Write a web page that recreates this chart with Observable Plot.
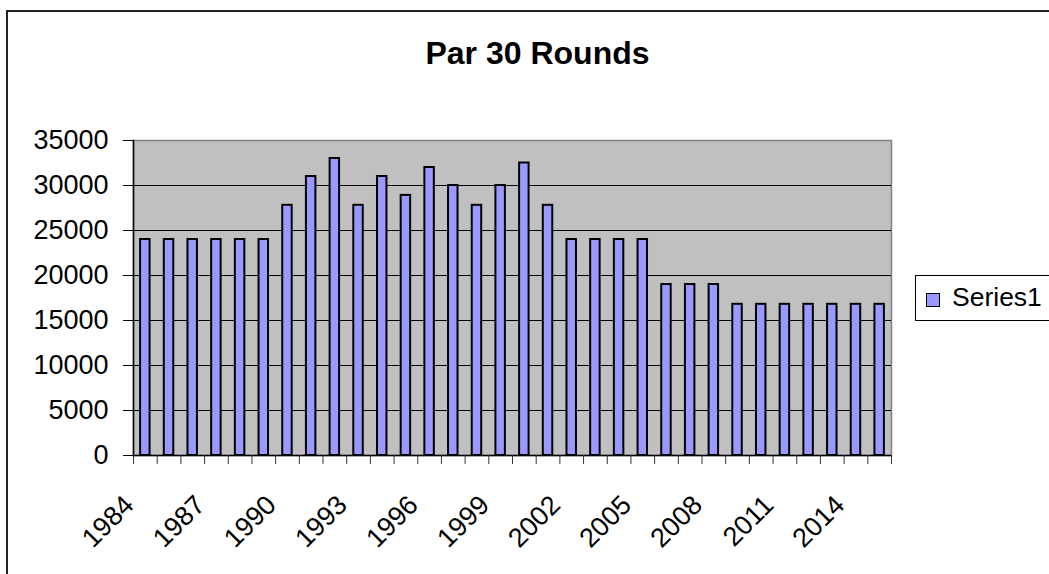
<!DOCTYPE html>
<html>
<head>
<meta charset="utf-8">
<script src="https://cdn.jsdelivr.net/npm/d3@7"></script>
<script src="https://cdn.jsdelivr.net/npm/@observablehq/plot@0.6"></script>
<style>
  html, body { margin: 0; padding: 0; background: #fff; }
  #wrap { position: relative; width: 1049px; height: 574px; overflow: hidden;
          font-family: "Liberation Sans", Arial, sans-serif; color: #000; }
  #chart { position: absolute; left: 0; top: 0; }
  #border { position: absolute; left: 6px; top: 10px; width: 1100px; height: 620px;
            border: 2px solid #222; box-sizing: border-box; pointer-events: none; }
  #title { position: absolute; left: 0; width: 1075px; top: 35px; text-align: center;
           font-weight: bold; font-size: 32px; line-height: 1.15; }
  #legend { position: absolute; left: 915px; top: 275px; width: 150px; height: 46px;
            border: 1px solid #000; box-sizing: border-box; background: #fff; }
  #legend .sw { position: absolute; left: 10px; top: 17px; width: 14px; height: 14px;
                background: #9999FF; border: 1.5px solid #000; box-sizing: border-box; }
  #legend .lb { position: absolute; left: 36px; top: 6px; font-size: 26.5px; line-height: 1.15; }
</style>
</head>
<body>
<div id="wrap">
  <div id="chart"></div>
  <div id="border"></div>
  <div id="title">Par 30 Rounds</div>
  <div id="legend"><div class="sw"></div><div class="lb">Series1</div></div>
</div>
<script>
const years = [1984,1985,1986,1987,1988,1989,1990,1991,1992,1993,1994,1995,1996,1997,1998,1999,
               2000,2001,2002,2003,2004,2005,2006,2007,2008,2009,2010,2011,2012,2013,2014,2015];
const rounds = [24000,24000,24000,24000,24000,24000,27800,31000,33000,27800,31000,28900,32000,30000,27800,30000,
                32500,27800,24000,24000,24000,24000,19000,19000,19000,16800,16800,16800,16800,16800,16800,16800];
const yTicks = [0,5000,10000,15000,20000,25000,30000,35000];
const gridTicks = [5000,10000,15000,20000,25000,30000];
const labelYears = [1984,1987,1990,1993,1996,1999,2002,2005,2008,2011,2014];

const data = years.map((year, i) => ({year, value: rounds[i]}));

const W = 1049, H = 574, ML = 133, MR = 158, MT = 140, MB = 119;
const step = (W - ML - MR) / years.length;

const chart = Plot.plot({
  width: W, height: H,
  marginLeft: ML, marginRight: MR, marginTop: MT, marginBottom: MB,
  style: {fontFamily: "'Liberation Sans', Arial, sans-serif", background: "transparent", color: "#000"},
  x: {type: "band", domain: years, paddingInner: 0.6, paddingOuter: 0.3, round: false, axis: null, label: null},
  y: {domain: [0, 35000], axis: null, label: null},
  marks: [
    Plot.frame({fill: "#C0C0C0", stroke: "#808080", strokeWidth: 1.5}),
    Plot.gridY(gridTicks, {stroke: "#000", strokeOpacity: 1, strokeWidth: 1}),
    Plot.barY(data, {x: "year", y: "value", fill: "#9999FF", stroke: "#000", strokeWidth: 2}),
    Plot.ruleY([0], {stroke: "#000", strokeWidth: 1.5}),
    Plot.frame({anchor: "left", stroke: "#000", strokeWidth: 1.5}),
    Plot.axisY(yTicks, {tickSize: 10, tickPadding: 15, fontSize: 27, stroke: "#000",
      tickFormat: d => String(d), label: null}),
    Plot.ruleX(years, {x: d => d, y1: 0, y2: 0, insetBottom: -9, dx: -step / 2, stroke: "#333"}),
    Plot.ruleX([years[years.length - 1]], {x: d => d, y1: 0, y2: 0, insetBottom: -9, dx: step / 2, stroke: "#333"}),
    Plot.text(labelYears, {x: d => d, text: d => String(d), frameAnchor: "bottom",
      rotate: -45, textAnchor: "end", lineAnchor: "middle", dx: -16, dy: 45, fontSize: 27, fill: "#000"})
  ]
});
document.getElementById("chart").appendChild(chart);
</script>
</body>
</html>
